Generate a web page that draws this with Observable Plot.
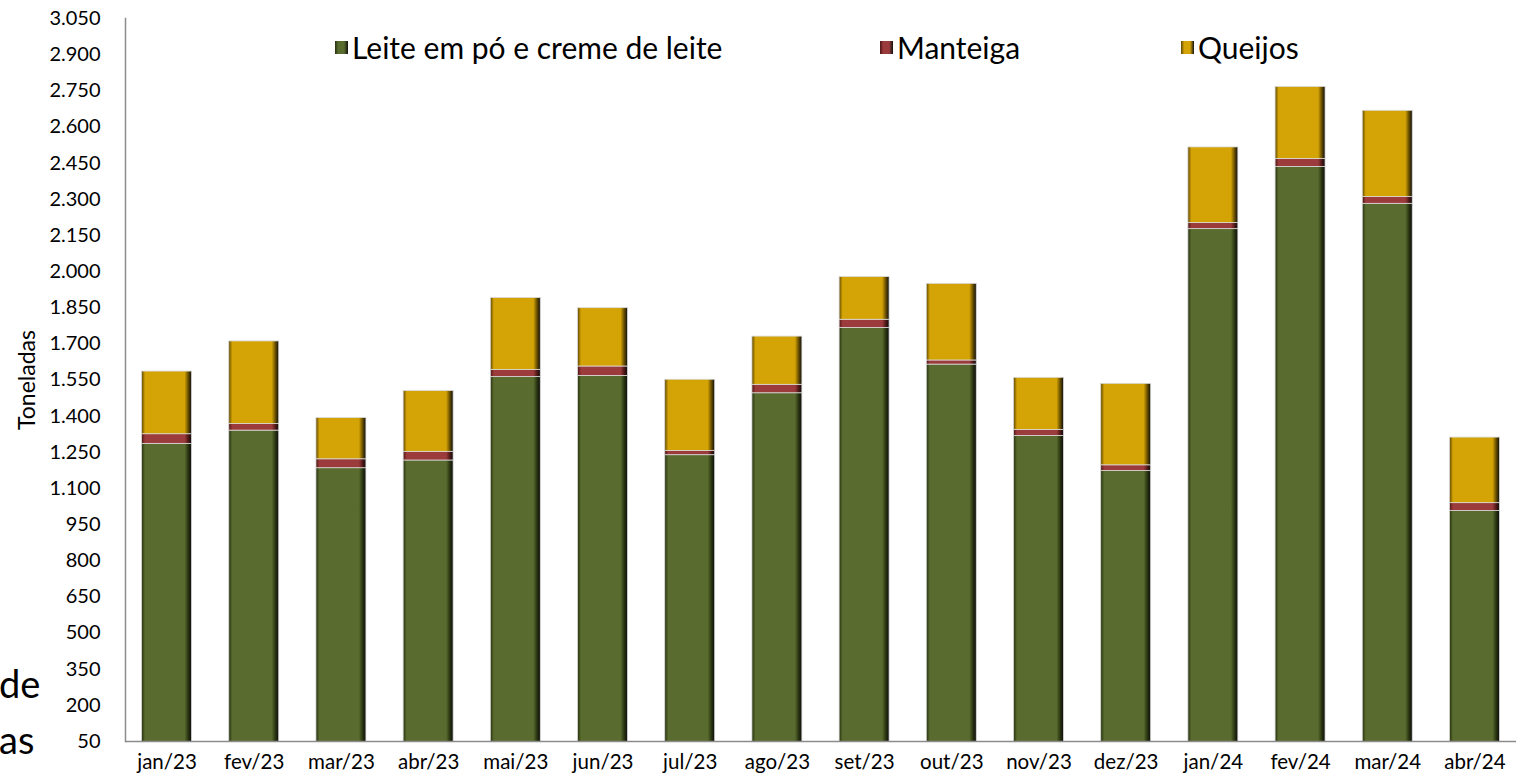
<!DOCTYPE html>
<html>
<head>
<meta charset="utf-8">
<script src="https://cdn.jsdelivr.net/npm/d3@7"></script>
<script src="https://cdn.jsdelivr.net/npm/@observablehq/plot@0.6"></script>
<style>
  html, body { margin: 0; padding: 0; background: #fff; overflow: hidden; }
  #wrap { position: relative; width: 1516px; height: 779px; font-family: Lato, "Open Sans", sans-serif; }
  #legend { position: absolute; top: 29px; left: 0; width: 1516px; height: 36px; font-size: 30px; color: #000; }
  .item { position: absolute; top: 0; display: flex; align-items: center; height: 36px; white-space: nowrap; }
  .sw { width: 13px; height: 13px; margin-right: 4px; box-sizing: border-box; }
  .side { position: absolute; font-size: 38px; color: #000; line-height: 1; }
</style>
</head>
<body>
<div id="wrap">
  <div id="chart"></div>
  <div id="legend"></div>
  <div class="side" style="left:-1px; top:664px;">de</div>
  <div class="side" style="left:-1px; top:720px;">as</div>
</div>
<script>
// ---- data ----
const months = ["jan/23","fev/23","mar/23","abr/23","mai/23","jun/23","jul/23","ago/23","set/23","out/23","nov/23","dez/23","jan/24","fev/24","mar/24","abr/24"];
const seriesNames = ["Leite em pó e creme de leite", "Manteiga", "Queijos"];
const leite    = [1285, 1340, 1184, 1216, 1562, 1567, 1238, 1495, 1766, 1614, 1318, 1172, 2176, 2434, 2281, 1006];
const manteiga = [  40,   27,   37,   36,   30,   39,   17,   35,   34,   17,   25,   24,   25,   33,   28,   33];
const queijos  = [ 260,  343,  171,  252,  298,  242,  296,  200,  177,  318,  216,  338,  314,  299,  358,  272];
const yTicks = [50, 200, 350, 500, 650, 800, 950, 1100, 1250, 1400, 1550, 1700, 1850, 2000, 2150, 2300, 2450, 2600, 2750, 2900, 3050];
const yLabel = "Toneladas";

// ---- styling ----
const baseColors = ["#596B2E", "#9C3B3B", "#D4A305"];
const darkEdge  = ["#26300f", "#4a1515", "#5e4700"];
const gradIds = ["gLeite", "gManteiga", "gQueijos"];

const table = [];
months.forEach((m, i) => {
  table.push({month: m, series: seriesNames[0], value: leite[i]});
  table.push({month: m, series: seriesNames[1], value: manteiga[i]});
  table.push({month: m, series: seriesNames[2], value: queijos[i]});
});

const ptBR = d3.formatLocale({decimal: ",", thousands: ".", grouping: [3], currency: ["R$", ""]});
const fmt = ptBR.format(",d");

const chart = Plot.plot({
  width: 1516,
  height: 779,
  marginLeft: 125,
  marginRight: 0,
  marginTop: 18,
  marginBottom: 38,
  style: {fontFamily: "Lato, 'Open Sans', sans-serif", fontSize: "20px", color: "#000", background: "#fff"},
  x: {domain: months, paddingInner: 0.427, paddingOuter: 0.19, round: false},
  y: {domain: [50, 3050]},
  color: {domain: seriesNames, range: gradIds.map(id => `url(#${id})`)},
  marks: [
    Plot.barY(table, Plot.stackY({x: "month", y: "value", fill: "series", stroke: "#d9d9d9", strokeWidth: 0.8, clip: true})),
    Plot.ruleY([50], {stroke: "#8c8c8c", strokeWidth: 1.5}),
    Plot.frame({anchor: "left", stroke: "#8c8c8c", strokeWidth: 1.5}),
    Plot.axisY({ticks: yTicks, tickFormat: fmt, tickSize: 0, tickPadding: 25, fontSize: 20, label: null}),
    Plot.text([yLabel], {frameAnchor: "left", dx: -98, rotate: -90, textAnchor: "middle", lineAnchor: "middle", fontSize: 23, fill: "#000"}),
    Plot.axisX({tickSize: 0, tickPadding: 13, fontSize: 20.5, label: null})
  ]
});

// gradients for bevel-like shading
const svgNS = "http://www.w3.org/2000/svg";
const defs = document.createElementNS(svgNS, "defs");
gradIds.forEach((id, k) => {
  const g = document.createElementNS(svgNS, "linearGradient");
  g.setAttribute("id", id);
  g.setAttribute("x1", "0"); g.setAttribute("x2", "1"); g.setAttribute("y1", "0"); g.setAttribute("y2", "0");
  [[0, darkEdge[k]], [0.07, baseColors[k]], [0.86, baseColors[k]], [0.94, darkEdge[k]], [1, "#0d0d0d"]].forEach(([o, c]) => {
    const s = document.createElementNS(svgNS, "stop");
    s.setAttribute("offset", o);
    s.setAttribute("stop-color", c);
    g.appendChild(s);
  });
  defs.appendChild(g);
});
chart.insertBefore(defs, chart.firstChild);
document.getElementById("chart").appendChild(chart);

// legend
const legend = document.getElementById("legend");
const legendLeft = [335, 880, 1181];
seriesNames.forEach((name, k) => {
  const item = document.createElement("div");
  item.className = "item";
  item.style.left = legendLeft[k] + "px";
  const sw = document.createElement("div");
  sw.className = "sw";
  sw.style.background = `linear-gradient(90deg, ${darkEdge[k]} 0%, ${baseColors[k]} 25%, ${baseColors[k]} 70%, #111 100%)`;
  item.appendChild(sw);
  const t = document.createElement("span");
  t.textContent = name;
  item.appendChild(t);
  legend.appendChild(item);
});
</script>
</body>
</html>
